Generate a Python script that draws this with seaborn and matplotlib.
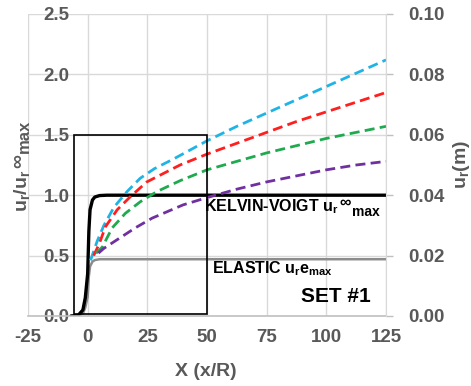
import matplotlib
matplotlib.use("Agg")
import matplotlib.pyplot as plt
import seaborn as sns
from matplotlib.patches import Rectangle

sns.set_style("whitegrid")
plt.rcParams['font.family'] = ['Liberation Sans', 'DejaVu Sans']
plt.rcParams['mathtext.default'] = 'regular'

# ---- data ----
x_ticks = [-25, 0, 25, 50, 75, 100, 125]
x_labels = ["-25", "0", "25", "50", "75", "100", "125"]
y_left_ticks = [0.0, 0.5, 1.0, 1.5, 2.0, 2.5]
y_left_labels = ["0.0", "0.5", "1.0", "1.5", "2.0", "2.5"]
y_right_ticks = [0.00, 0.02, 0.04, 0.06, 0.08, 0.10]
y_right_labels = ["0.00", "0.02", "0.04", "0.06", "0.08", "0.10"]

kv_x = [-7, -4, -2, -1, 0, 0.5, 1, 2, 3, 5, 8, 125]
kv_y = [0.0, 0.005, 0.05, 0.15, 0.35, 0.70, 0.88, 0.96, 0.985, 0.997, 1.0, 1.0]

el_x = [-7, -4, -2, -1, 0, 0.5, 1, 2, 3, 5, 125]
el_y = [0.0, 0.002, 0.02, 0.07, 0.16, 0.33, 0.41, 0.45, 0.463, 0.47, 0.47]

cyan_x = [1.2, 4, 6.8, 11, 16.5, 22, 28, 36, 50, 62.5, 75, 87.5, 100, 112.5, 125]
cyan_y = [0.46, 0.62, 0.75, 0.90, 1.03, 1.14, 1.22, 1.30, 1.45, 1.57, 1.68, 1.79, 1.90, 2.01, 2.12]

red_x = [2.5, 4.7, 7.5, 12.4, 18, 24.8, 38.7, 50, 62.5, 75, 87.5, 100, 112.5, 125]
red_y = [0.50, 0.59, 0.74, 0.88, 0.99, 1.11, 1.25, 1.34, 1.43, 1.52, 1.61, 1.69, 1.77, 1.85]

green_x = [3.5, 6.1, 10.3, 15.8, 22, 29, 38.7, 50, 62.5, 75, 87.5, 100, 112.5, 125]
green_y = [0.52, 0.57, 0.73, 0.85, 0.945, 1.03, 1.12, 1.21, 1.28, 1.35, 1.41, 1.47, 1.52, 1.57]

purple_x = [4.5, 6.8, 13, 20, 27, 40, 50, 62.5, 75, 87.5, 100, 112.5, 125]
purple_y = [0.52, 0.56, 0.64, 0.73, 0.81, 0.92, 0.98, 1.05, 1.11, 1.16, 1.21, 1.25, 1.28]

inset_box = [-5.6, 0.02, 50, 1.5]  # x0, y0, x1, y1

TICK_COLOR = "#595959"

fig = plt.figure(figsize=(4.71, 3.86), dpi=100)
ax = fig.add_axes([28 / 471, 1 - 316 / 386, 358 / 471, 302 / 386])

sns.lineplot(x=el_x, y=el_y, ax=ax, color="#8c8c8c", lw=1.8, sort=False, estimator=None)
sns.lineplot(x=kv_x, y=kv_y, ax=ax, color="black", lw=2.4, sort=False, estimator=None)

dash = (0, (3.6, 1.9))
for xs, ys, c in [(cyan_x, cyan_y, "#1fb4e6"), (red_x, red_y, "#ff1f1f"),
                  (green_x, green_y, "#1faa4f"), (purple_x, purple_y, "#7030a0")]:
    sns.lineplot(x=xs, y=ys, ax=ax, color=c, lw=2.0, linestyle=dash, sort=False, estimator=None)

ax.add_patch(Rectangle((inset_box[0], inset_box[1]), inset_box[2] - inset_box[0],
                       inset_box[3] - inset_box[1], fill=False, ec="black", lw=1.2, zorder=5))

ax.set_xlim(-25, 125)
ax.set_ylim(0, 2.5)
ax.set_xticks(x_ticks)
ax.set_xticklabels(x_labels)
ax.set_yticks(y_left_ticks)
ax.set_yticklabels(y_left_labels, ha="right")
ax.grid(True, color="#d9d9d9", lw=1)
for s in ["top", "left", "right"]:
    ax.spines[s].set_visible(False)
ax.spines["bottom"].set_color("#c0c0c0")
ax.spines["bottom"].set_linewidth(1.2)
ax.tick_params(axis="x", length=0, pad=9, labelsize=13.5, labelcolor=TICK_COLOR)
ax.tick_params(axis="y", length=0, pad=-30, labelsize=13.5, labelcolor=TICK_COLOR)
for t in ax.get_xticklabels() + ax.get_yticklabels():
    t.set_fontweight("bold")

ax2 = ax.twinx()
ax2.set_ylim(0, 0.10)
ax2.set_yticks(y_right_ticks)
ax2.set_yticklabels(y_right_labels)
ax2.grid(False)
for s in ["top", "left", "bottom"]:
    ax2.spines[s].set_visible(False)
ax2.spines["right"].set_color("#d9d9d9")
ax2.tick_params(axis="y", length=5, width=1, color="#c0c0c0", pad=11,
                labelsize=13.5, labelcolor=TICK_COLOR)
for t in ax2.get_yticklabels():
    t.set_fontweight("bold")

# ---- in-plot labels ----
kv_base = 0.865
t1 = ax.text(48.7, kv_base, "KELVIN-VOIGT u$_{r}$", fontsize=11.5,
             fontweight="bold", color="black", va="baseline", ha="left", zorder=6)
t2 = ax.annotate("\u221e", xy=(1, kv_base), xycoords=(t1, "data"), xytext=(1.2, 3.2),
                 textcoords="offset points", fontsize=11.5, fontweight="bold",
                 color="black", va="baseline", ha="left", zorder=6)
ax.annotate("max", xy=(1, kv_base), xycoords=(t2, "data"), xytext=(0.6, -3.0),
            textcoords="offset points", fontsize=10, fontweight="bold",
            color="black", va="baseline", ha="left", zorder=6)

ax.text(52.3, 0.356, "ELASTIC u$_{r}$e$_{max}$", fontsize=11.5,
        fontweight="bold", color="black", va="baseline", ha="left", zorder=6)
ax.text(89.2, 0.118, "SET #1", fontsize=15, fontweight="bold",
        color="black", va="baseline", ha="left", zorder=6)

# ---- axis titles ----
fig.text(206 / 471, 1 - 371 / 386, "X (x/R)", ha="center", va="center",
         fontsize=14, fontweight="bold", color=TICK_COLOR)

yl_x = 27 / 471
y1 = fig.text(yl_x, 1 - 212 / 386, "u$_{r}$/u$_{r}$", rotation=90, rotation_mode="anchor",
              ha="left", va="baseline", fontsize=14, fontweight="bold", color=TICK_COLOR)
y2 = fig.text(0, 0, "\u221e", rotation=90, rotation_mode="anchor", ha="left", va="baseline",
              fontsize=14, fontweight="bold", color=TICK_COLOR)
y2.remove()
y2 = fig.add_artist(plt.matplotlib.text.Annotation(
    "\u221e", xy=(yl_x, 1), xycoords=("figure fraction", y1), xytext=(-3.0, 1.0),
    textcoords="offset points", rotation=90, rotation_mode="anchor", ha="left",
    va="baseline", fontsize=14, fontweight="bold", color=TICK_COLOR))
fig.add_artist(plt.matplotlib.text.Annotation(
    "max", xy=(yl_x, 1), xycoords=("figure fraction", y2), xytext=(1.5, 0.8),
    textcoords="offset points", rotation=90, rotation_mode="anchor", ha="left",
    va="baseline", fontsize=12, fontweight="bold", color=TICK_COLOR))

fig.text(461 / 471, 1 - 164 / 386, "u$_{r}$(m)", ha="center", va="center",
         rotation=90, fontsize=14, fontweight="bold", color=TICK_COLOR)

fig.savefig("out.png", dpi=100)
